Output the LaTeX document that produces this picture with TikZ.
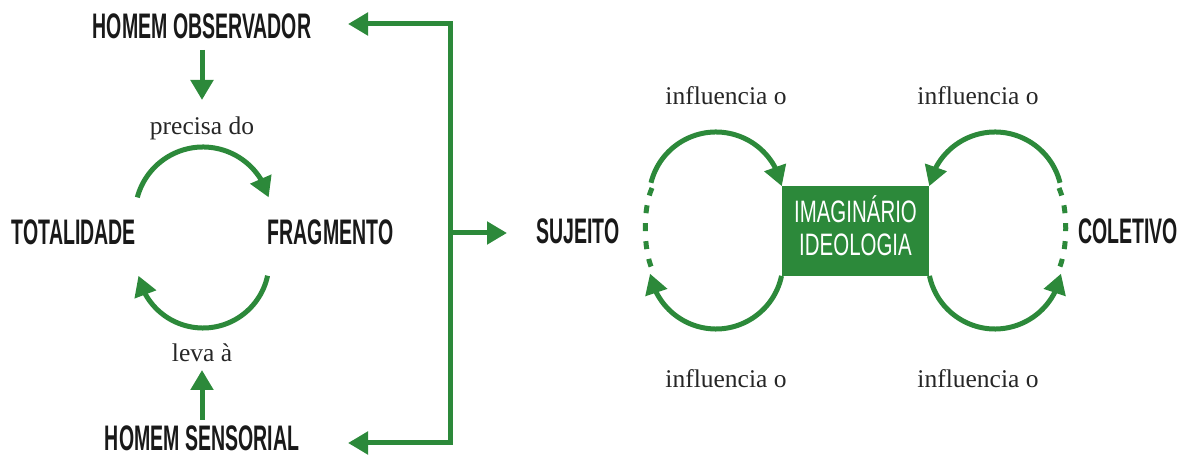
\documentclass[tikz,border=0pt]{standalone}
\usepackage{fontspec}
\setmainfont{Liberation Serif}
\newfontfamily\condb[FakeStretch=0.55]{Liberation Sans}
\newfontfamily\condr[FakeStretch=0.66]{Liberation Sans}
\usetikzlibrary{arrows.meta,bending}
\definecolor{gr}{RGB}{44,137,58}
\begin{document}
\begin{tikzpicture}[x=1pt,y=1pt,
  big/.style={font=\condb\bfseries\fontsize{35.5}{38}\selectfont, text=black!90, anchor=base, inner sep=0pt},
  lbl/.style={font=\fontsize{25.5}{28}\selectfont, text=black!85, anchor=base, inner sep=0pt},
  inbox/.style={font=\condr\fontsize{31}{34}\selectfont, text=white, anchor=base, inner sep=0pt},
  ln/.style={draw=gr, line width=5pt},
  arr/.style={ln, -{Triangle[width=22pt,length=20pt]}},
  dsh/.style={draw=gr, line width=5pt, line cap=butt, dash pattern=on 8pt off 10pt},
  boxst/.style={fill=gr, minimum width=147pt, minimum height=90pt, inner sep=0pt}
]
\useasboundingbox (0,0) rectangle (1179,458);

% left part
\node[big] (obs) at (202,419) {HOMEM OBSERVADOR};
\node[big] (sen) at (202,7.5) {HOMEM SENSORIAL};
\node[big] (tot) at (74,213) {TOTALIDADE};
\node[big] (fra) at (330.5,213) {FRAGMENTO};
\node[lbl] (prec) at (202,323) {precisa do};
\node[lbl] (leva) at (202,96) {leva à};

\coordinate (obsB) at (202,408);
\coordinate (precT) at (202,358);
\coordinate (senT) at (202,38);
\coordinate (levaB) at (202,88);
\draw[arr] (obsB) -- (precT);
\draw[arr] (senT) -- (levaB);

\coordinate (c1) at (203,243);
\coordinate (c2) at (203,196);
\draw[arr] ([shift={(165:68)}]c1) arc[start angle=165, end angle=15, radius=68];
\draw[arr] ([shift={(-12:66)}]c2) arc[start angle=-12, end angle=-168, radius=66];

% bracket
\coordinate (bt) at (450,434);
\coordinate (bb) at (450,15);
\coordinate (bm) at (450,225);
\coordinate (tipT) at (348,434);
\coordinate (tipB) at (348,15);
\coordinate (tipM) at (507,225);
\draw[ln, line cap=butt] (bt) -- (bb);
\draw[arr] ([xshift=2.5pt]bt) -- (tipT);
\draw[arr] ([xshift=2.5pt]bb) -- (tipB);
\draw[arr] (bm) -- (tipM);

% right part
\node[big] (suj) at (578,214.5) {SUJEITO};
\node[big] (col) at (1128,214) {COLETIVO};
\node[boxst] (box) at (855.5,227) {};
\node[inbox] (im) at (855.5,235) {IMAGINÁRIO};
\node[inbox] (id) at (855.5,202) {IDEOLOGIA};

\node[lbl] (l1) at (726,353) {influencia o};
\node[lbl] (l2) at (978,353) {influencia o};
\node[lbl] (l3) at (726,70) {influencia o};
\node[lbl] (l4) at (978,70) {influencia o};

% left loop
\coordinate (cl1) at (716,259);
\coordinate (cl2) at (716,196);
\draw[arr] ([shift={(166:67)}]cl1) arc[start angle=166, end angle=11, radius=67];
\draw[arr] ([shift={(-12:67)}]cl2) arc[start angle=-12, end angle=-170, radius=67];
\coordinate (dl1) at (652,270);
\coordinate (dl2) at (652,189);
\draw[dsh] (dl1) .. controls (643,250) and (643,210) .. (dl2);

% right loop
\coordinate (cr1) at (995,259);
\coordinate (cr2) at (995,196);
\draw[arr] ([shift={(14:67)}]cr1) arc[start angle=14, end angle=169, radius=67];
\draw[arr] ([shift={(-168:67)}]cr2) arc[start angle=-168, end angle=-10, radius=67];
\coordinate (dr1) at (1059,270);
\coordinate (dr2) at (1059,189);
\draw[dsh] (dr1) .. controls (1068,250) and (1068,210) .. (dr2);
\end{tikzpicture}
\end{document}
